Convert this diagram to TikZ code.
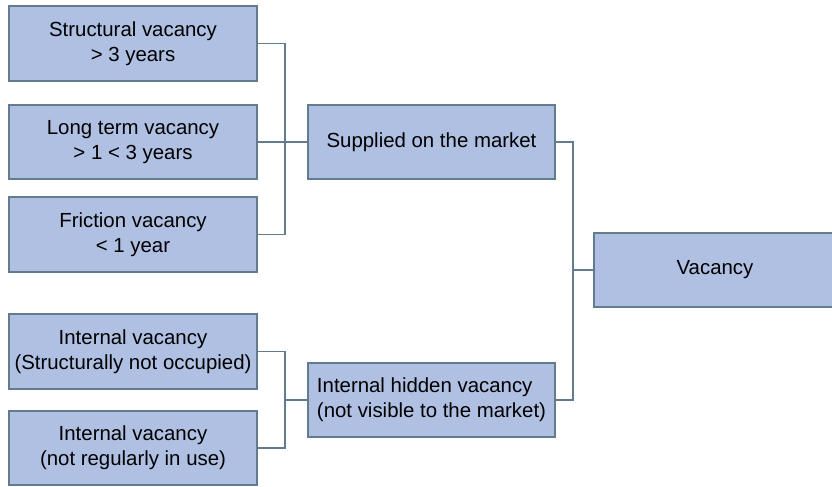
\documentclass[tikz,border=0pt]{standalone}
\usepackage{fontspec}
\setmainfont{Liberation Sans}
\usepackage{tikz}
\usetikzlibrary{
  positioning,
}
\definecolor{boxfill}{HTML}{AFC0E3}
\definecolor{boxline}{HTML}{627B8F}
\tikzset{
  cat/.style={
    rectangle,
    minimum width=186pt,
    minimum height=56pt,
    text centered,
    align=center,
    draw=boxline,
    line width=1.5pt,
    fill=boxfill,
    font=\fontsize{15.3}{19}\selectfont,
    inner sep=0pt,
  },
  link/.style={
    draw=boxline,
    line width=1.4pt,
  },
}

\begin{document}
\begin{tikzpicture}[
    x=0.75pt, y=-0.75pt,
  ]
  \useasboundingbox (0,0) rectangle (832,486);

  % Left column
  \node (struct) [cat] at (133,43.5) {Structural vacancy\\ > 3 years};
  \node (longterm) [cat] at (133,142) {Long term vacancy\\ > 1 < 3 years};
  \node (friction) [cat] at (133,234.5) {Friction vacancy\\ < 1 year};
  \node (intstruct) [cat] at (133,351.5) {Internal vacancy\\(Structurally not occupied)};
  \node (intuse) [cat] at (133,448) {Internal vacancy\\(not regularly in use)};

  % Middle column
  \node (supplied) [cat, minimum width=185pt] at (431.5,142) {Supplied on the market};
  \node (hidden) [cat, minimum width=185pt, align=left] at (431.5,400)
    {Internal hidden vacancy\\(not visible to the market)};

  % Right, runs past the edge
  \node (vacancy) [cat, minimum width=182pt] at (715,270) {Vacancy};

  % Junctions
  \coordinate (busup) at (285,142);
  \coordinate (buslow) at (285,400);
  \coordinate (busright) at (573,270);

  % Connectors
  \draw [link] (struct.east) -| (busup) |- (friction.east);
  \draw [link] (longterm.east) -- (supplied.west);
  \draw [link] (intstruct.east) -| (buslow) |- (intuse.east);
  \draw [link] (buslow) -- (hidden.west);
  \draw [link] (supplied.east) -| (busright) |- (hidden.east);
  \draw [link] (busright) -- (vacancy.west);

\end{tikzpicture}
\end{document}
